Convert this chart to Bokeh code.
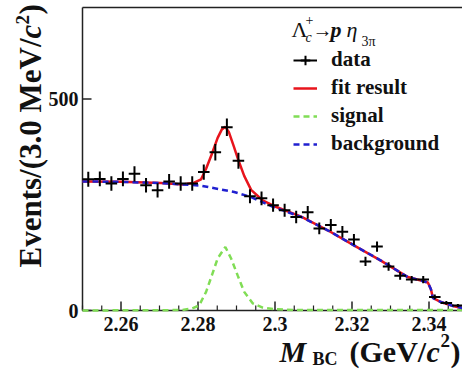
from math import pi
import numpy as np
from bokeh.plotting import figure
from bokeh.models import Range1d, Label, Legend, LegendItem, ColumnDataSource
from bokeh.core.properties import value
from bokeh.embed import file_html
from bokeh.resources import INLINE

# ---------------- data ----------------
bin_width = 0.003
bin_centers = [2.2515, 2.2545, 2.2575, 2.2605, 2.2635, 2.2665, 2.2695, 2.2725,
               2.2755, 2.2785, 2.2815, 2.2845, 2.2875, 2.2905, 2.2935, 2.2965,
               2.2995, 2.3025, 2.3055, 2.3085, 2.3115, 2.3145, 2.3175, 2.3205,
               2.3235, 2.3265, 2.3295, 2.3325, 2.3355, 2.3385, 2.3415, 2.3445,
               2.3475]
counts = [310, 311, 300, 311, 323, 296, 284, 305, 300, 300, 327, 374, 433, 354,
          270, 265, 249, 237, 221, 232, 194, 202, 186, 168, 116, 151, 104, 82,
          73, 73, 32, 18, 12]
errors = [17.6, 17.6, 17.3, 17.6, 18.0, 17.2, 16.9, 17.5, 17.3, 17.3, 18.1, 19.3,
          20.8, 18.8, 16.4, 16.3, 15.8, 15.4, 14.9, 15.2, 13.9, 14.2, 13.6, 13.0,
          10.8, 12.3, 10.2, 9.1, 8.5, 8.5, 5.7, 4.2, 3.5]

fit_x = [2.2500, 2.2600, 2.2704, 2.2760, 2.2790, 2.2808, 2.2821, 2.2836, 2.2851,
         2.2862, 2.2871, 2.2880, 2.2893, 2.2905, 2.2920, 2.2938, 2.2968, 2.2997,
         2.3068, 2.3138, 2.3205, 2.3275, 2.3345, 2.3379, 2.3397, 2.3405, 2.3410,
         2.3431, 2.3465, 2.3487]
fit_y = [305, 304, 301, 298, 302, 310, 335, 370, 408, 428, 434, 422, 388, 355,
         318, 285, 260, 247, 222, 189, 154, 118, 79, 71, 66, 50, 30, 20, 10, 6]

sig_x = [2.2500, 2.2760, 2.2785, 2.2803, 2.2821, 2.2836, 2.2851, 2.2871, 2.2886,
         2.2903, 2.2920, 2.2942, 2.2968, 2.3000, 2.3050, 2.3487]
sig_y = [0, 1, 5, 12, 44, 83, 123, 150, 123, 83, 44, 17, 7, 3, 1, 1]

bkg_x = [2.2500, 2.2600, 2.2704, 2.2808, 2.2894, 2.2938, 2.2997, 2.3068, 2.3138,
         2.3205, 2.3275, 2.3345, 2.3379, 2.3397, 2.3405, 2.3410, 2.3431, 2.3465,
         2.3487]
bkg_y = [305, 304, 301, 295, 280, 268, 244, 221, 189, 154, 118, 79, 71, 66, 50,
         30, 20, 10, 6]

x_ticks = [2.26, 2.28, 2.30, 2.32, 2.34]
x_tick_labels = ["2.26", "2.28", "2.3", "2.32", "2.34"]
x_minor_ticks = [2.250, 2.255, 2.265, 2.270, 2.275, 2.285, 2.290, 2.295, 2.305,
                 2.310, 2.315, 2.325, 2.330, 2.335, 2.345]
y_ticks = [0, 500]
y_tick_labels = ["0", "500"]

# ---------------- layout constants ----------------
W, H = 462, 369
BOX_L, BOX_T, BOX_B = 82, 7, 310          # plot box in canvas pixels
X0, X1 = 2.25, 2.3487                     # plot box data limits
Y0, Y1 = 0, 716
SX = (W - BOX_L) / (X1 - X0)              # px per GeV
SY = (BOX_B - BOX_T) / (Y1 - Y0)          # px per event

FONT = "Liberation Serif"
INK = "#111111"

p = figure(width=W, height=H,
           x_range=Range1d(X0 - BOX_L / SX, X1),
           y_range=Range1d(Y0 - (H - BOX_B) / SY, Y1 + BOX_T / SY),
           x_axis_type=None, y_axis_type=None,
           output_backend="svg", toolbar_location=None, min_border=0)
p.grid.visible = False
p.outline_line_color = None
p.background_fill_color = "white"
p.border_fill_color = "white"

# ---------------- axes (box, ticks, tick labels) ----------------
AX = dict(line_color="#222222", line_width=1.5)
p.line([X0, X1], [Y0, Y0], **AX)
p.line([X0, X0], [Y0, Y1], **AX)
p.line([X0, X1], [Y1, Y1], **AX)

maj_x = 9 / SY
min_x = 5 / SY
p.segment(x0=x_ticks, y0=[Y0] * len(x_ticks), x1=x_ticks,
          y1=[Y0 + maj_x] * len(x_ticks), **AX)
p.segment(x0=x_minor_ticks, y0=[Y0] * len(x_minor_ticks), x1=x_minor_ticks,
          y1=[Y0 + min_x] * len(x_minor_ticks), line_color="#222222",
          line_width=1.2)
maj_y = 9 / SX
p.segment(x0=[X0] * len(y_ticks), y0=y_ticks, x1=[X0 + maj_y] * len(y_ticks),
          y1=y_ticks, **AX)

p.text(x=x_ticks, y=[Y0] * len(x_ticks), text=x_tick_labels, y_offset=6,
       text_align="center", text_baseline="top", text_font=value(FONT),
       text_font_style="bold", text_font_size="20px", text_color=INK)
p.text(x=[X0] * len(y_ticks), y=y_ticks, text=y_tick_labels, x_offset=-4,
       text_align="right", text_baseline="middle", text_font=value(FONT),
       text_font_style="bold", text_font_size="20px", text_color=INK)

# ---------------- curves ----------------
r_sig = p.line(sig_x, sig_y, line_color="#80dd55", line_width=2.5,
               line_dash="6 4")
r_fit = p.line(fit_x, fit_y, line_color="#e8141c", line_width=2.5)
r_bkg = p.line(bkg_x, bkg_y, line_color="#2020d0", line_width=2.5,
               line_dash="6 4")

# ---------------- data with error bars ----------------
xc = np.array(bin_centers)
yc = np.array(counts, dtype=float)
ye = np.array(errors)
src = ColumnDataSource(dict(x=xc, y=yc, lo=yc - ye, hi=yc + ye,
                            left=xc - bin_width / 2, right=xc + bin_width / 2))
r_v = p.segment(x0="x", y0="lo", x1="x", y1="hi", source=src,
                line_color="black", line_width=2)
r_h = p.segment(x0="left", y0="y", x1="right", y1="y", source=src,
                line_color="black", line_width=2)
r_cross = p.scatter(x="x", y="y", source=src, marker="cross", size=0,
                    line_color="black", line_width=2)

legend = Legend(items=[
    LegendItem(label="data", renderers=[r_h, r_cross]),
    LegendItem(label="fit result", renderers=[r_fit]),
    LegendItem(label="signal", renderers=[r_sig]),
    LegendItem(label="background", renderers=[r_bkg]),
], location=(293, H - 156), orientation="vertical", padding=0, margin=0,
    spacing=3, glyph_width=24, glyph_height=24, label_height=24,
    label_standoff=14, border_line_color=None, background_fill_alpha=0,
    label_text_font=FONT, label_text_font_style="bold",
    label_text_font_size="21px", label_text_color=INK)
p.add_layout(legend)


# ---------------- texts (canvas pixels, y from top, at baseline) ----------------
def put(txt, cx, cy, size, style="normal", angle=0.0):
    off = 0.3 * size + 1          # Bokeh's alphabetic baseline sits lower
    if angle:
        cx -= off
    else:
        cy -= off
    p.add_layout(Label(x=cx, y=H - cy, x_units="screen", y_units="screen",
                       text=txt, text_font=FONT, text_font_style=style,
                       text_font_size=f"{size}px", text_color=INK,
                       text_align="left", text_baseline="alphabetic",
                       angle=angle))


# legend title: Lambda_c^+ -> p eta_{3pi}
put("Λ", 291, 37, 22)
put("c", 305, 42, 14, "italic")
put("+", 305, 25, 14)
put("→", 312, 36, 20)
put("p", 330, 37, 22, "bold italic")
put("η", 346, 37, 22, "italic")
put("3π", 361, 46, 14)

# x axis title: M_BC (GeV/c^2)
put("M", 279, 361, 30, "bold italic")
put("BC", 312, 365, 18, "bold")
put("(GeV/", 349, 361, 30, "bold")
put("c", 426, 361, 30, "bold italic")
put("2", 440, 347, 19, "bold")
put(")", 450, 361, 30, "bold")

# y axis title: Events/(3.0 MeV/c^2), rotated
put("Events/(3.0 MeV/", 40, 267, 31, "bold", pi / 2)
put("c", 40, 38, 31, "bold italic", pi / 2)
put("2", 29, 24, 19, "bold", pi / 2)
put(")", 40, 14, 31, "bold", pi / 2)

open("out.html", "w").write(file_html(p, INLINE))
